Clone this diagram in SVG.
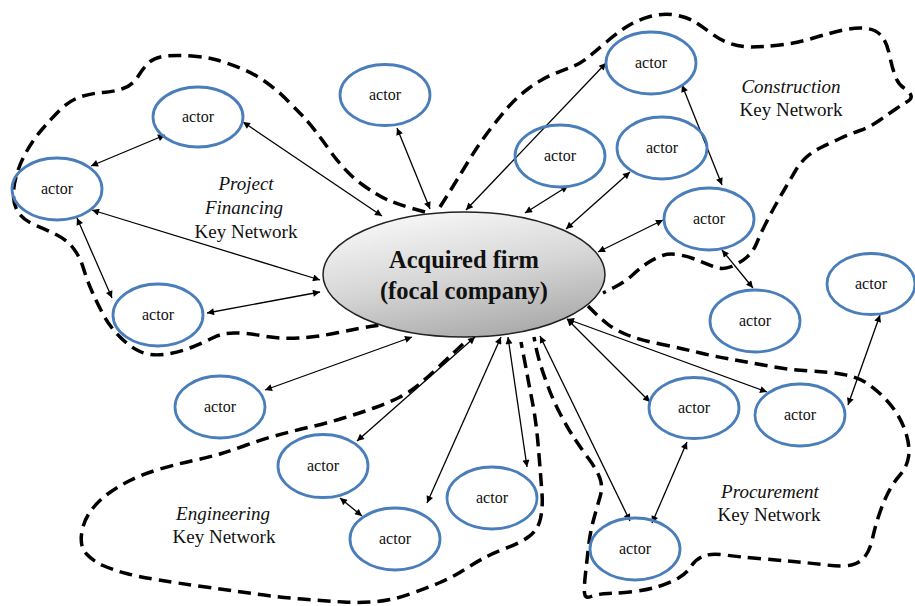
<svg xmlns="http://www.w3.org/2000/svg" width="915" height="606" viewBox="0 0 915 606">
  <defs>
    <linearGradient id="focalFill" x1="0.3" y1="0" x2="0.7" y2="1">
      <stop offset="0" stop-color="#f7f7f7"/>
      <stop offset="0.5" stop-color="#d6d6d6"/>
      <stop offset="1" stop-color="#a8a8a8"/>
    </linearGradient>
    <marker id="tip" viewBox="0 0 10 10" refX="10" refY="5" markerWidth="9" markerHeight="7" markerUnits="userSpaceOnUse" orient="auto-start-reverse">
      <path d="M0,0 L10,5 L0,10 z" fill="#000"/>
    </marker>
    <style>
      .boundary { fill: none; stroke: #000; stroke-width: 3.5; stroke-dasharray: 13 7; stroke-linecap: butt; }
      .link { stroke: #000; stroke-width: 1.3; fill: none; marker-start: url(#tip); marker-end: url(#tip); }
      .actor ellipse { fill: none; stroke: #4a7ebb; stroke-width: 2.8; }
      .actor text { font-family: "Liberation Serif", "Times New Roman", serif; font-size: 16px; fill: #111; text-anchor: middle; }
      .label { font-family: "Liberation Serif", "Times New Roman", serif; font-size: 19px; fill: #111; text-anchor: middle; }
      .label .it { font-style: italic; }
      .focal text { font-family: "Liberation Serif", "Times New Roman", serif; font-weight: bold; font-size: 24.5px; fill: #111; text-anchor: middle; }
    </style>
  </defs>
  <rect width="915" height="606" fill="#fff"/>

  <!-- key network boundaries -->
  <g id="boundaries">
    <path id="financing-boundary" class="boundary" d="M425,212 L412.5,208.5 Q400,205 389,200.5 Q378,196 361.5,184 Q345,172 329,149.5 Q313,127 305,118.5 Q297,110 287,100 Q277,90 265,81.5 Q253,73 240,68 Q227,63 217,60 Q207,57 192,56 Q177,55 166,56 Q155,57 149,62.5 Q143,68 138,76.5 Q133,85 123,88.5 Q113,92 103,92.5 Q93,93 81.5,96.5 Q70,100 60,110 Q50,120 41.5,130 Q33,140 26.5,151.5 Q20,163 16.5,175 Q13,187 13.5,197 Q14,207 19.5,214 Q25,221 36,225.5 Q47,230 57,235 Q67,240 73.5,248.5 Q80,257 83.5,268.5 Q87,280 92,291.5 Q97,303 103.5,315 Q110,327 120,337 Q130,347 140,351.5 Q150,356 163.5,354.5 Q177,353 190,348 Q203,343 212.5,338 Q222,333 234.5,333 Q247,333 263.5,336 Q280,339 298.5,338 Q317,337 338.5,332.5 Q360,328 377.5,325.5 L395,323"/>
    <path id="construction-boundary" class="boundary" d="M440,207 L448.5,193.5 Q457,180 467,163.5 Q477,147 487,133.5 Q497,120 507,108.5 Q517,97 528.5,88.5 Q540,80 551.5,75 Q563,70 571.5,67 Q580,64 588.5,57 Q597,50 607,41.5 Q617,33 627,26.5 Q637,20 650,16.5 Q663,13 675,15 Q687,17 695,22 Q703,27 711.5,33.5 Q720,40 730,43.5 Q740,47 751.5,47 Q763,47 780,45 Q797,43 813.5,38 Q830,33 843.5,30 Q857,27 867,28.5 Q877,30 882,36.5 Q887,43 889.5,55 Q892,67 895,75.5 Q898,84 904,88 Q910,92 911,95.5 Q912,99 907.5,101.5 Q903,104 896.5,108.5 Q890,113 880,120 Q870,127 860,130.5 Q850,134 840,138.5 Q830,143 821,147.5 Q812,152 806,157.5 Q800,163 795,171.5 Q790,180 785,188.5 Q780,197 775,206 Q770,215 765,225 Q760,235 756.5,243.5 Q753,252 746.5,257.5 Q740,263 731.5,266.5 Q723,270 715,267 Q707,264 698.5,260.5 Q690,257 680,255 Q670,253 662.5,255.5 Q655,258 647.5,263 Q640,268 632.5,275 Q625,282 614,287.5 L603,293"/>
    <path id="engineering-boundary" class="boundary" d="M463,344 L454.5,352 Q446,360 437,368.5 Q428,377 419,384.5 Q410,392 399,397.5 Q388,403 374,408 Q360,413 343.5,418 Q327,423 310,427 Q293,431 276.5,435.5 Q260,440 246.5,445 Q233,450 221.5,453.5 Q210,457 193.5,460.5 Q177,464 160,469 Q143,474 130,480.5 Q117,487 107,494.5 Q97,502 90,512 Q83,522 81.5,534.5 Q80,547 86.5,554 Q93,561 103,565.5 Q113,570 126.5,573.5 Q140,577 158.5,580 Q177,583 202,586.5 Q227,590 252,593.5 Q277,597 302,599 Q327,601 343.5,602 Q360,603 376.5,601.5 Q393,600 410,594 Q427,588 440,582.5 Q453,577 463,570.5 Q473,564 483,558.5 Q493,553 506.5,548 Q520,543 529,536.5 Q538,530 540.5,518.5 Q543,507 542,493.5 Q541,480 540,467.5 Q539,455 538,443.5 Q537,432 535.5,421 Q534,410 532,400 Q530,390 528,379 Q526,368 523.5,355 L521,342"/>
    <path id="procurement-boundary" class="boundary" d="M588,306 L594,312 Q600,318 607.5,324 Q615,330 627.5,335 Q640,340 660,344 Q680,348 698.5,352.5 Q717,357 735,360 Q753,363 771.5,366.5 Q790,370 810,371 Q830,372 843.5,374.5 Q857,377 865,382 Q873,387 881.5,395 Q890,403 896.5,413 Q903,423 906.5,435 Q910,447 908.5,457 Q907,467 900,475 Q893,483 888,493 Q883,503 879,515 Q875,527 872.5,538.5 Q870,550 865,556.5 Q860,563 851.5,565 Q843,567 826.5,565 Q810,563 793.5,561.5 Q777,560 758.5,558.5 Q740,557 725,555 Q710,553 702.5,556.5 Q695,560 691,566.5 Q687,573 678.5,578 Q670,583 658.5,586.5 Q647,590 633.5,591.5 Q620,593 608.5,593.5 Q597,594 591,596.5 Q585,599 584.5,593 Q584,587 585.5,573.5 Q587,560 588.5,546.5 Q590,533 593.5,520 Q597,507 600,497 Q603,487 600,478.5 Q597,470 588.5,458.5 Q580,447 573.5,437 Q567,427 560,413.5 Q553,400 548,386.5 Q543,373 540,363 Q537,353 535.5,345 L534,337"/>
  </g>

  <!-- network labels -->
  <g id="labels">
    <text class="label" x="246" y="190"><tspan class="it">Project</tspan></text>
    <text class="label" x="244" y="214"><tspan class="it">Financing</tspan></text>
    <text class="label" x="246" y="238">Key Network</text>
    <text class="label" x="791" y="93"><tspan class="it">Construction</tspan></text>
    <text class="label" x="791" y="116">Key Network</text>
    <text class="label" x="223" y="520"><tspan class="it">Engineering</tspan></text>
    <text class="label" x="224" y="543">Key Network</text>
    <text class="label" x="770" y="498"><tspan class="it">Procurement</tspan></text>
    <text class="label" x="769" y="521">Key Network</text>
  </g>

  <!-- focal company -->
  <g id="focal" class="focal">
    <ellipse cx="464" cy="274.5" rx="141" ry="62.5" fill="url(#focalFill)" stroke="#222" stroke-width="1.5"/>
    <text x="464" y="268">Acquired firm</text>
    <text x="464" y="299">(focal company)</text>
  </g>

  <!-- connectors -->
  <g id="connectors">
    <line class="link" x1="91" y1="166" x2="165" y2="135"/>
    <line class="link" x1="243" y1="122" x2="382" y2="216"/>
    <line class="link" x1="397" y1="128" x2="430" y2="209"/>
    <line class="link" x1="92" y1="210" x2="320" y2="280"/>
    <line class="link" x1="77" y1="218" x2="112" y2="298"/>
    <line class="link" x1="207" y1="313" x2="320" y2="292"/>
    <line class="link" x1="466" y1="210" x2="606" y2="63"/>
    <line class="link" x1="525" y1="213" x2="568" y2="186"/>
    <line class="link" x1="566" y1="229" x2="630" y2="172"/>
    <line class="link" x1="598" y1="252" x2="663" y2="220"/>
    <line class="link" x1="682" y1="85" x2="722" y2="185"/>
    <line class="link" x1="722" y1="250" x2="753" y2="288"/>
    <line class="link" x1="880" y1="315" x2="848" y2="405"/>
    <line class="link" x1="567" y1="319" x2="650" y2="402"/>
    <line class="link" x1="567" y1="319" x2="767" y2="392"/>
    <line class="link" x1="540" y1="336" x2="630" y2="521"/>
    <line class="link" x1="687" y1="442" x2="652" y2="523"/>
    <line class="link" x1="265" y1="390" x2="412" y2="337"/>
    <line class="link" x1="357" y1="441" x2="475" y2="337"/>
    <line class="link" x1="340" y1="498" x2="362" y2="516"/>
    <line class="link" x1="427" y1="503" x2="501" y2="337"/>
    <line class="link" x1="508" y1="337" x2="527" y2="467"/>
  </g>

  <!-- actors -->
  <g id="actor-1" class="actor"><ellipse cx="198" cy="117" rx="45" ry="30"/><text x="198" y="122">actor</text></g>
  <g id="actor-2" class="actor"><ellipse cx="57" cy="189" rx="45" ry="31"/><text x="57" y="194">actor</text></g>
  <g id="actor-3" class="actor"><ellipse cx="158" cy="315" rx="45" ry="31"/><text x="158" y="320">actor</text></g>
  <g id="actor-4" class="actor"><ellipse cx="385" cy="95" rx="45" ry="30.5"/><text x="385" y="100">actor</text></g>
  <g id="actor-5" class="actor"><ellipse cx="560" cy="156" rx="45" ry="31"/><text x="560" y="161">actor</text></g>
  <g id="actor-6" class="actor"><ellipse cx="651" cy="63" rx="45" ry="31"/><text x="651" y="68">actor</text></g>
  <g id="actor-7" class="actor"><ellipse cx="662" cy="148" rx="45" ry="31"/><text x="662" y="153">actor</text></g>
  <g id="actor-8" class="actor"><ellipse cx="709" cy="219" rx="45" ry="31"/><text x="709" y="224">actor</text></g>
  <g id="actor-9" class="actor"><ellipse cx="755" cy="321" rx="45" ry="31"/><text x="755" y="326">actor</text></g>
  <g id="actor-10" class="actor"><ellipse cx="871" cy="284" rx="44" ry="30.5"/><text x="871" y="289">actor</text></g>
  <g id="actor-11" class="actor"><ellipse cx="694" cy="408" rx="45" ry="30.5"/><text x="694" y="413">actor</text></g>
  <g id="actor-12" class="actor"><ellipse cx="800" cy="415" rx="45" ry="31"/><text x="800" y="420">actor</text></g>
  <g id="actor-13" class="actor"><ellipse cx="635" cy="549" rx="45" ry="31"/><text x="635" y="554">actor</text></g>
  <g id="actor-14" class="actor"><ellipse cx="220" cy="407" rx="45" ry="31"/><text x="220" y="412">actor</text></g>
  <g id="actor-15" class="actor"><ellipse cx="323" cy="466" rx="45" ry="31.5"/><text x="323" y="471">actor</text></g>
  <g id="actor-16" class="actor"><ellipse cx="395" cy="539" rx="45" ry="31"/><text x="395" y="544">actor</text></g>
  <g id="actor-17" class="actor"><ellipse cx="492" cy="498" rx="45" ry="31"/><text x="492" y="503">actor</text></g>
</svg>
